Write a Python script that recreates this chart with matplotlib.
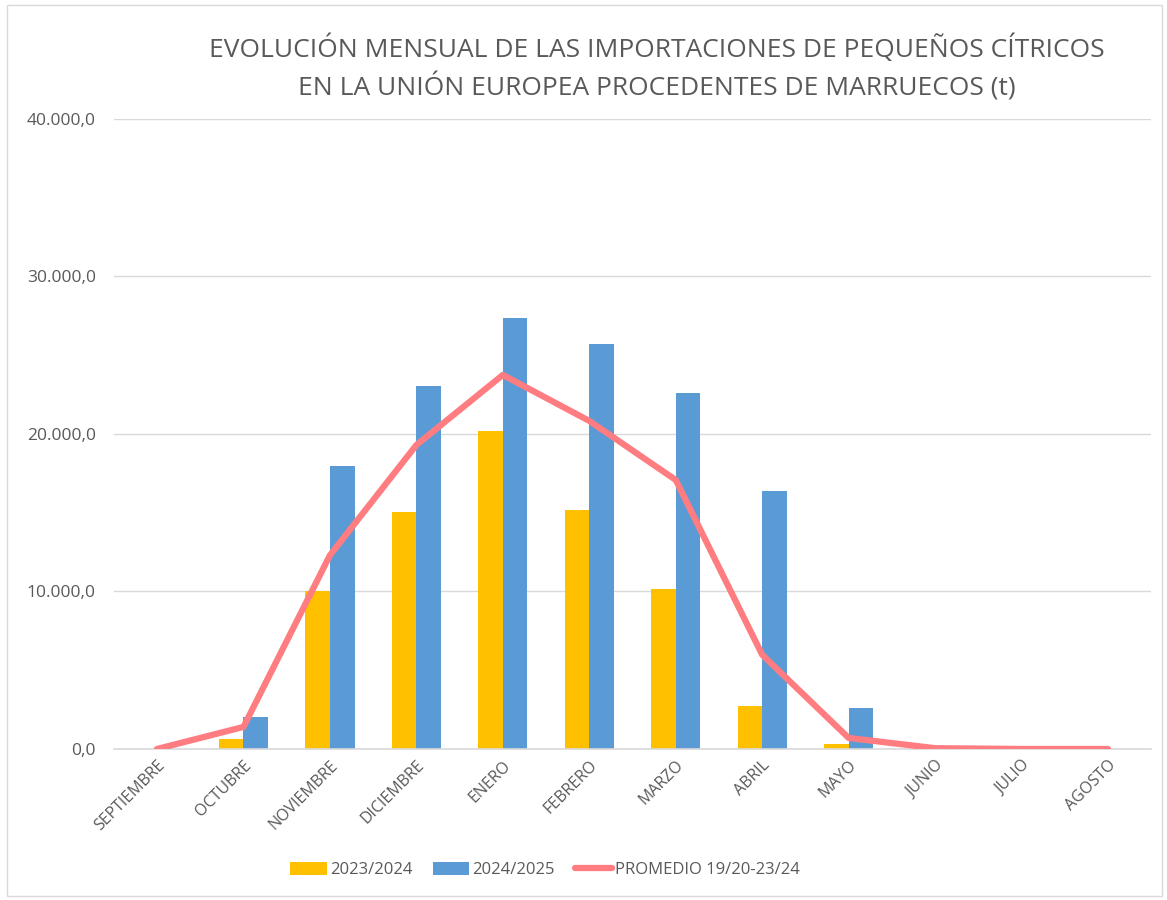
import matplotlib
matplotlib.use("Agg")
import matplotlib.pyplot as plt
import numpy as np
from matplotlib.ticker import FuncFormatter
from matplotlib.patches import Rectangle

months = ["SEPTIEMBRE", "OCTUBRE", "NOVIEMBRE", "DICIEMBRE", "ENERO", "FEBRERO",
          "MARZO", "ABRIL", "MAYO", "JUNIO", "JULIO", "AGOSTO"]
s2023 = [0, 650, 10050, 15050, 20200, 15170, 10170, 2700, 330, 0, 0, 0]
s2024 = [0, 2050, 17970, 23050, 27380, 25720, 22620, 16400, 2620, 0, 0, 0]
avg = [0, 1400, 12300, 19300, 23750, 20830, 17080, 5980, 700, 50, 0, 0]
series_names = ["2023/2024", "2024/2025", "PROMEDIO 19/20-23/24"]
title = "EVOLUCIÓN MENSUAL DE LAS IMPORTACIONES DE PEQUEÑOS CÍTRICOS\nEN LA UNIÓN EUROPEA PROCEDENTES DE MARRUECOS (t)"

plt.rcParams['font.family'] = ['Open Sans', 'DejaVu Sans']
txt = "#595959"

fig = plt.figure(figsize=(11.67, 9.0), dpi=100)
ax = fig.add_axes([0.0975, 0.1678, 0.889, 0.70])

x = np.arange(len(months))
w = 0.285
b1 = ax.bar(x - w/2, s2023, width=w, color="#FFC000", label=series_names[0], zorder=2)
b2 = ax.bar(x + w/2, s2024, width=w, color="#5B9BD5", label=series_names[1], zorder=2)
l1, = ax.plot(x, avg, color="#FF7C80", lw=4.5, solid_capstyle="round", solid_joinstyle="round",
              label=series_names[2], zorder=3)

ax.set_xlim(-0.5, len(months) - 0.5)
ax.set_ylim(0, 40000)
ax.set_yticks([0, 10000, 20000, 30000, 40000])
ax.yaxis.set_major_formatter(FuncFormatter(lambda v, p: f"{v:,.1f}".replace(",", "X").replace(".", ",").replace("X", ".")))
ax.grid(axis="y", color="#D9D9D9", lw=1, zorder=0)
for s in ["top", "right", "left"]:
    ax.spines[s].set_visible(False)
ax.spines["bottom"].set_color("#D9D9D9")
ax.spines["bottom"].set_linewidth(1.2)
ax.tick_params(axis="y", length=0, pad=13, labelsize=12.5, labelcolor=txt)
ax.tick_params(axis="x", length=0, pad=6, labelsize=11.5, labelcolor=txt)
ax.set_xticks(x)
ax.set_xticklabels(months, rotation=45, ha="right", rotation_mode="anchor")

fig.text(0.563, 0.962, title, ha="center", va="top", fontsize=19, color=txt, linespacing=1.42)

leg = fig.legend([b1, b2, l1], series_names, loc="center", bbox_to_anchor=(0.467, 0.033),
                 ncol=3, frameon=False, fontsize=12, handlelength=2.2, handleheight=0.8,
                 columnspacing=1.2, handletextpad=0.2)
for t in leg.get_texts():
    t.set_color(txt)

fig.patches.append(Rectangle((0.006, 0.005), 0.99, 0.99, transform=fig.transFigure,
                             fill=False, edgecolor="#D9D9D9", lw=1))

fig.savefig("out.png", dpi=100, facecolor="white")
